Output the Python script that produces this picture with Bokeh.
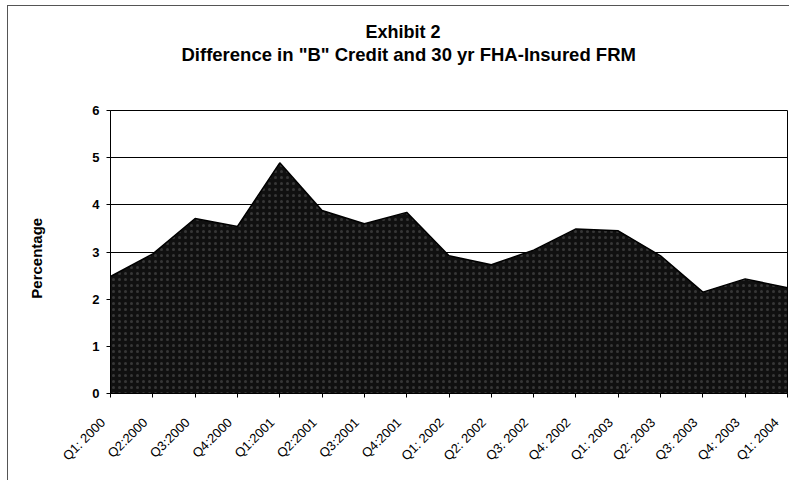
import math
from bokeh.plotting import figure
from bokeh.models import Range1d, FixedTicker, Title
from bokeh.embed import file_html
from bokeh.resources import INLINE

quarters = ["Q1: 2000", "Q2:2000", "Q3:2000", "Q4:2000", "Q1:2001", "Q2:2001",
            "Q3:2001", "Q4:2001", "Q1: 2002", "Q2: 2002", "Q3: 2002", "Q4: 2002",
            "Q1: 2003", "Q2: 2003", "Q3: 2003", "Q4: 2003", "Q1: 2004"]
spread = [2.48, 2.96, 3.71, 3.54, 4.89, 3.88, 3.60, 3.84, 2.92, 2.73,
          3.04, 3.49, 3.45, 2.92, 2.15, 2.43, 2.24]
y_ticks = [0, 1, 2, 3, 4, 5, 6]
title_1 = "Exhibit 2"
title_2 = 'Difference in "B" Credit and 30 yr FHA-Insured FRM'
y_title = "Percentage"

xs = list(range(len(quarters)))
pad = "\u00a0" * 3  # shifts each rotated label a little down-left of its tick

p = figure(width=782, height=475, output_backend="svg", toolbar_location=None,
           x_range=Range1d(0, len(quarters) - 1), y_range=Range1d(0, 6),
           min_border_left=102, min_border_top=104, min_border_right=3, min_border_bottom=88)
p.styles = {"margin-left": "7px", "margin-top": "5px",
            "border-left": "1px solid #555555", "border-top": "1px solid #555555"}

p.varea(x=xs, y1=[0] * len(xs), y2=spread, fill_color="#101010",
        hatch_pattern="dot", hatch_color="#8a8a8a", hatch_scale=6, hatch_alpha=0.32)
p.line(x=xs, y=spread, line_color="black", line_width=1.5)

p.background_fill_color = "white"
p.border_fill_color = "white"
p.outline_line_color = "black"
p.outline_line_width = 1

p.xgrid.visible = False
p.ygrid.grid_line_color = "black"
p.ygrid.grid_line_width = 1
p.ygrid.ticker = FixedTicker(ticks=y_ticks)

xa = p.xaxis[0]
xa.ticker = FixedTicker(ticks=xs)
xa.major_label_overrides = {i: q + pad for i, q in enumerate(quarters)}
xa.major_label_orientation = math.pi / 4
xa.major_label_text_font = "Liberation Sans"
xa.major_label_text_font_size = "13px"
xa.major_label_text_color = "black"
xa.major_tick_out = 4
xa.major_tick_in = 0
xa.minor_tick_line_color = None
xa.axis_line_color = "black"
xa.major_tick_line_color = "black"
xa.major_label_standoff = 15

ya = p.yaxis[0]
ya.ticker = FixedTicker(ticks=y_ticks)
ya.major_label_text_font = "Liberation Sans"
ya.major_label_text_font_size = "13px"
ya.major_label_text_font_style = "bold"
ya.major_label_text_color = "black"
ya.major_tick_out = 4
ya.major_tick_in = 0
ya.minor_tick_line_color = None
ya.axis_line_color = "black"
ya.major_tick_line_color = "black"
ya.major_label_standoff = 7
ya.axis_label = y_title + "\u00a0" * 3
ya.axis_label_text_font = "Liberation Sans"
ya.axis_label_text_font_size = "15px"
ya.axis_label_text_font_style = "bold"
ya.axis_label_text_color = "black"
ya.axis_label_standoff = 44

p.title.text = title_1
p.title.align = "left"
p.title.offset = 255
p.title.text_font = "Liberation Sans"
p.title.text_font_size = "18px"
p.title.text_font_style = "bold"
p.title.text_color = "black"
p.title.standoff = 0

# spacer nearest the frame, then the second title line above it
p.add_layout(Title(text=" ", text_font_size="18px", standoff=24), "above")
p.add_layout(Title(text=title_2, align="left", offset=71, text_font="Liberation Sans",
                   text_font_size="18.5px", text_font_style="bold", text_color="black",
                   standoff=0), "above")

open("out.html", "w").write(file_html(p, INLINE))
